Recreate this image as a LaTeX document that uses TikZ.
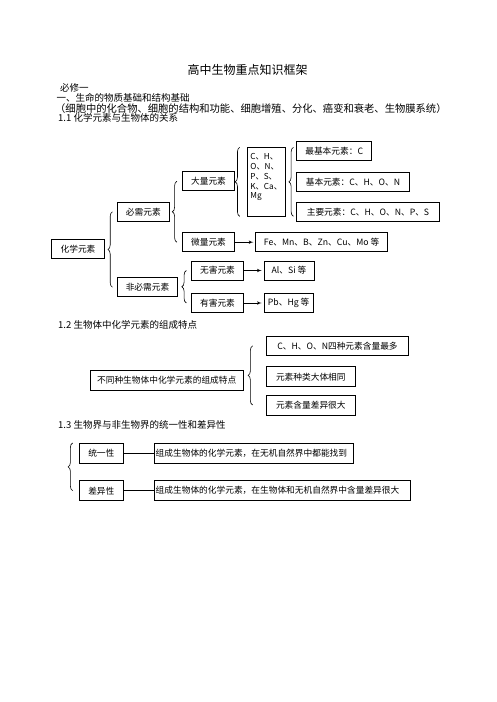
\documentclass[tikz,border=0pt]{standalone}
\usepackage{fontspec}
\setmainfont{Noto Sans CJK SC}
\usetikzlibrary{arrows, positioning, calc, decorations.pathreplacing}

\newcommand{\boxfont}{\fontsize{8.7}{9.8}\selectfont}
\newcommand{\headfont}{\fontsize{9.5}{11}\selectfont}

\begin{document}
\begin{tikzpicture}[
    x=1pt, y=-1pt,
    box/.style={rectangle, draw, line width=0.7pt, font=\boxfont, inner sep=1pt, minimum height=19pt},
    arrow/.style={-latex', line width=0.6pt, shorten >=2pt},
    link/.style={line width=0.7pt},
    brc/.style={decorate, decoration={brace, amplitude=4.5pt}, line width=0.6pt},
    head/.style={anchor=west, inner sep=0pt, font=\headfont}
]
    \useasboundingbox (0,0) rectangle (496,702);

    % Headings
    \node[inner sep=0pt, font=\fontsize{12}{14}\selectfont] (title) at (247.5,70) {高中生物重点知识框架};
    \node[head] (bxy) at (60,88.3) {必修一};
    \node[head] (yi) at (56.5,98.3) {一、生命的物质基础和结构基础};
    \node[head, font=\fontsize{10.3}{12}\selectfont] (kh) at (55,108.3) {（细胞中的化合物、细胞的结构和功能、细胞增殖、分化、癌变和衰老、生物膜系统）};
    \node[head] (h11) at (58,118.3) {1.1 化学元素与生物体的关系};
    \node[head] (h12) at (58,325) {1.2 生物体中化学元素的组成特点};
    \node[head] (h13) at (58,425) {1.3 生物界与非生物界的统一性和差异性};

    % 1.1 Nodes
    \node[box, minimum width=52.6pt] (hx) at (78,248.8) {化学元素};
    \node[box, minimum width=52pt] (bx) at (143.3,211.8) {必需元素};
    \node[box, minimum width=60.4pt] (fbx) at (147.5,287.2) {非必需元素};
    \node[box, minimum width=51.6pt] (dl) at (208.5,181.3) {大量元素};
    \node[box, minimum width=51.6pt] (wl) at (208.5,242.2) {微量元素};
    \node[box, minimum width=51.6pt] (wh) at (217.5,270.5) {无害元素};
    \node[box, minimum width=51.6pt] (yh) at (217.5,303) {有害元素};
    \node[box, minimum width=37.7pt, minimum height=68.3pt, align=left, text depth=11pt,
          font=\fontsize{8.2}{9.8}\selectfont] (dlys) at (266.2,181.8) {C、H、\\O、N、\\P、S、\\K、Ca、\\Mg};
    \node[box, minimum width=75pt] (zjb) at (334.2,151.3) {最基本元素：C};
    \node[box, minimum width=112.6pt] (jb) at (353,182.2) {基本元素：C、H、O、N};
    \node[box, minimum width=142.6pt] (zy) at (368,212.3) {主要元素：C、H、O、N、P、S};
    \node[box, minimum width=131.7pt, right=20.7pt of wl] (wlys) {Fe、Mn、B、Zn、Cu、Mo 等};
    \node[box, minimum width=50pt, right=20pt of wh] (al) {Al、Si 等};
    \node[box, minimum width=49.4pt, right=20pt of yh] (pb) {Pb、Hg 等};

    % 1.1 Arrows
    \draw[arrow] (wl) -- (wlys);
    \draw[arrow] (wh) -- (al);
    \draw[arrow] (yh) -- (pb);

    % 1.1 Braces
    \draw[brc] ([xshift=-4.5pt]fbx.west) -- ([xshift=-4.5pt]bx.west);
    \draw[brc] ([xshift=-5.5pt]wl.west) -- ([xshift=-5.5pt]dl.west);
    \draw[brc] ([xshift=-5pt]yh.west) -- ([xshift=-5pt]wh.west);
    \draw[brc] ([xshift=-7.3pt]dlys.south west) -- ([xshift=-7.3pt]dlys.north west);
    \draw[brc] ($(dlys.south east)+(8,0)$) -- ($(dlys.north east)+(8,0)$);

    % 1.2 Nodes
    \node[box, minimum width=153.3pt, minimum height=20pt] (td) at (166.7,380) {不同种生物体中化学元素的组成特点};
    \node[box, minimum width=141.6pt] (t1) at (337.5,345.8) {C、H、O、N四种元素含量最多};
    \node[box, minimum width=88.3pt, minimum height=20pt] (t2) at (310.8,376.7) {元素种类大体相同};
    \node[box, minimum width=88.3pt, minimum height=20pt] (t3) at (310.8,405) {元素含量差异很大};
    \draw[brc] ([xshift=-13.7pt]t3.west) -- ([xshift=-13.7pt]t1.west);

    % 1.3 Nodes
    \node[box, minimum width=44pt, minimum height=20pt] (ty) at (101.3,453.3) {统一性};
    \node[box, minimum width=44pt, minimum height=20pt] (cy) at (101.3,490.7) {差异性};
    \node[box, text width=196.7pt, align=left, minimum height=20pt, right=30.7pt of ty] (ty2) {组成生物体的化学元素，在无机自然界中都能找到};
    \node[box, text width=254pt, align=left, minimum height=20pt, right=30.7pt of cy] (cy2) {组成生物体的化学元素，在生物体和无机自然界中含量差异很大};
    \draw[link] (ty) -- (ty2);
    \draw[link] (cy) -- (cy2);
    \draw[brc] ([xshift=-6.3pt]cy.west) -- ([xshift=-6.3pt]ty.north west);
\end{tikzpicture}
\end{document}
